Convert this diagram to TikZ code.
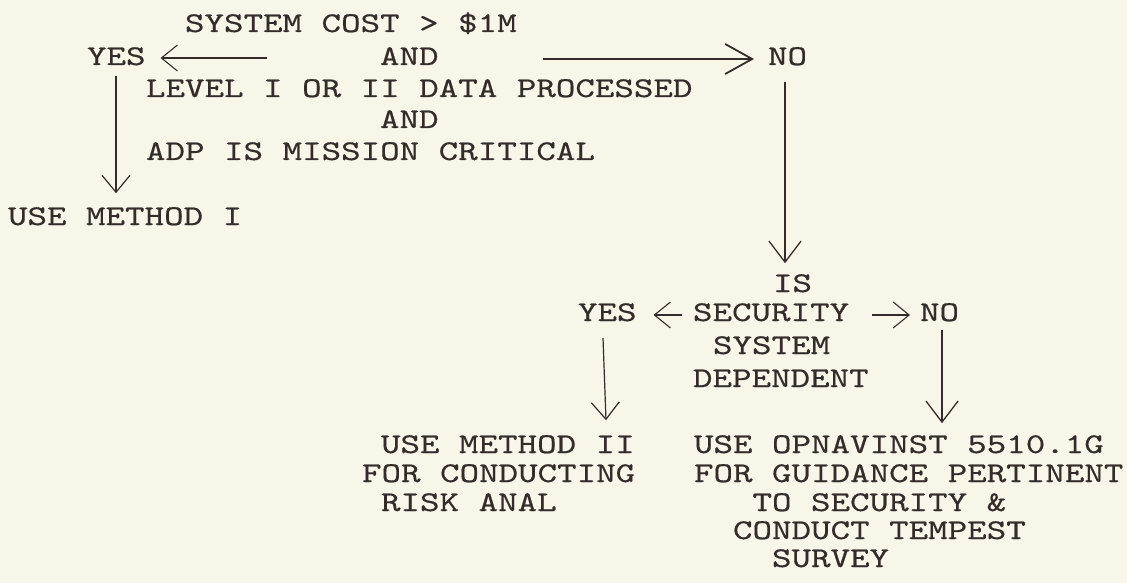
\documentclass[tikz,border=0pt]{standalone}
\usepackage{fontspec}
\newfontfamily\tw{lmmono10-regular.otf}[FakeStretch=1.3,FakeBold=0.4]
\usetikzlibrary{arrows.meta,calc}
\definecolor{paper}{RGB}{247,246,232}
\definecolor{ink}{RGB}{52,44,40}
\tikzset{
  txt/.style={font=\tw\fontsize{28.6}{30}\selectfont, text=ink, inner sep=0pt, outer sep=0pt, anchor=base west},
  thinarr/.style={draw=ink, line width=1.1pt, -{Straight Barb[length=16pt,width=26pt,line width=1.1pt]}},
  boldarr/.style={draw=ink, line width=1.8pt, -{Straight Barb[length=27pt,width=30pt,line width=1.8pt]}},
  downarr/.style={draw=ink, line width=1.2pt, -{Straight Barb[length=17pt,width=28pt,line width=1.2pt]}},
  bigdown/.style={draw=ink, line width=1.3pt, -{Straight Barb[length=21pt,width=32pt,line width=1.3pt]}}
}
\begin{document}
\begin{tikzpicture}[x=1pt,y=-1pt]
\fill[paper] (0,0) rectangle (1127,583);
\useasboundingbox (0,0) rectangle (1127,583);

% top block
\node[txt] (sys)  at (185,32)    {SYSTEM COST > \$1M};
\node[txt] (yes1) at (87,65)     {YES};
\node[txt] (and1) at (380,65)    {AND};
\node[txt] (no1)  at (768,65)    {NO};
\node[txt] (lvl)  at (146,97)    {LEVEL I OR II DATA PROCESSED};
\node[txt] (and2) at (380,128)   {AND};
\node[txt] (adp)  at (146,160)   {ADP IS MISSION CRITICAL};
\node[txt] (m1)   at (8,225)     {USE METHOD I};

% bottom decision
\node[txt] (is)   at (773,292)   {IS};
\node[txt] (yes2) at (578,321)   {YES};
\node[txt] (sec)  at (693,321)   {SECURITY};
\node[txt] (no2)  at (920,321)   {NO};
\node[txt] (sys2) at (713,354)   {SYSTEM};
\node[txt] (dep)  at (693,387)   {DEPENDENT};

% method II
\node[txt] (m2a) at (381,453)   {USE METHOD II};
\node[txt] (m2b) at (362,482)   {FOR CONDUCTING};
\node[txt] (m2c) at (381,511)   {RISK ANAL};

% opnavinst
\node[txt] (o1) at (694,453)    {USE OPNAVINST 5510.1G};
\node[txt] (o2) at (694,482)    {FOR GUIDANCE PERTINENT};
\node[txt] (o3) at (752.5,511)  {TO SECURITY \&};
\node[txt] (o4) at (733,539)    {CONDUCT TEMPEST};
\node[txt] (o5) at (772,567)    {SURVEY};

% connectors
\coordinate (c1) at (267,58);
\draw[thinarr] (c1) -- ([xshift=15pt]yes1.east |- c1);
\coordinate (c2) at (543,59);
\draw[boldarr] (c2) -- ([xshift=-14pt]no1.west |- c2);
\coordinate (c3) at (116,76);
\draw[downarr] (c3) -- ([yshift=14pt]m1.north -| c3);
\coordinate (c4) at (785,82);
\draw[bigdown] (c4) -- ([yshift=11pt]is.north -| c4);
\coordinate (c5) at (682,315);
\draw[thinarr] (c5) -- ([xshift=17pt]yes2.east |- c5);
\coordinate (c6) at (872,315);
\draw[thinarr] (c6) -- ([xshift=-10pt]no2.west |- c6);
\coordinate (c7) at (603,338);
\coordinate (c7x) at (606,0);
\draw[downarr] (c7) -- ([yshift=15pt]m2a.north -| c7x);
\coordinate (c8) at (942,330);
\draw[bigdown] (c8) -- ([yshift=12pt]o1.north -| c8);
\end{tikzpicture}
\end{document}
